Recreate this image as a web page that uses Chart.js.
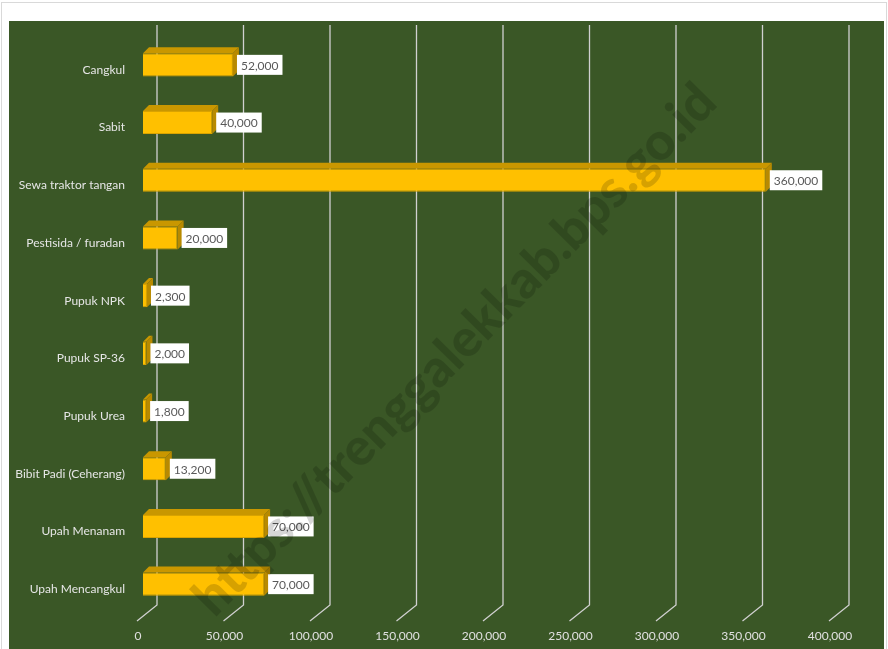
<!DOCTYPE html>
<html>
<head>
<meta charset="utf-8">
<script src="https://cdn.jsdelivr.net/npm/chart.js@4"></script>
<style>
  body { margin: 0; background: #fff; }
  canvas { display: block; }
</style>
</head>
<body>
<canvas id="biaya" width="888" height="649"></canvas>
<script>
// data
var categories = [
  "Cangkul",
  "Sabit",
  "Sewa traktor tangan",
  "Pestisida / furadan",
  "Pupuk NPK",
  "Pupuk SP-36",
  "Pupuk Urea",
  "Bibit Padi (Ceherang)",
  "Upah Menanam",
  "Upah Mencangkul"
];
var values = [52000, 40000, 360000, 20000, 2300, 2000, 1800, 13200, 70000, 70000];
var xTicks = [0, 50000, 100000, 150000, 200000, 250000, 300000, 350000, 400000];

var GREEN = "#3a5726";
var GOLD = "#ffc000";

// page background + green plot panel
var panelPlugin = {
  id: "panel",
  beforeDraw: function (chart) {
    var c = chart.ctx;
    c.save();
    c.fillStyle = "#ffffff";
    c.fillRect(0, 0, chart.width, chart.height);
    c.strokeStyle = "#d9d9d9";
    c.lineWidth = 1;
    c.strokeRect(1.5, 2.5, chart.width - 3, chart.height);
    c.fillStyle = GREEN;
    c.fillRect(9, 21, 875, chart.height - 21);
    c.restore();
  }
};

// gridlines on the back wall with floor edge
var gridPlugin = {
  id: "grid3d",
  beforeDatasetsDraw: function (chart) {
    var c = chart.ctx, xs = chart.scales.x, a = chart.chartArea;
    c.save();
    c.strokeStyle = "#d0d0d0";
    c.lineWidth = 1.3;
    xTicks.forEach(function (v) {
      var x = xs.getPixelForValue(v);
      c.beginPath();
      c.moveTo(x + 14, a.top - 11);
      c.lineTo(x + 14, a.bottom - 8);
      c.lineTo(x - 6, a.bottom + 8);
      c.stroke();
    });
    c.restore();
  }
};

// top and side faces of the bars, and value boxes
var barPlugin = {
  id: "bars3d",
  afterDatasetsDraw: function (chart) {
    var c = chart.ctx;
    var meta = chart.getDatasetMeta(0);
    var d = 6;
    c.save();
    meta.data.forEach(function (bar, i) {
      var p = bar.getProps(["x", "y", "base", "height"], true);
      var top = p.y - p.height / 2, bot = p.y + p.height / 2;
      c.fillStyle = "#c99700";
      c.beginPath();
      c.moveTo(p.base, top);
      c.lineTo(p.base + d, top - d);
      c.lineTo(p.x + d, top - d);
      c.lineTo(p.x, top);
      c.closePath();
      c.fill();
      c.fillStyle = "#b88a00";
      c.beginPath();
      c.moveTo(p.x, top);
      c.lineTo(p.x + d, top - d);
      c.lineTo(p.x + d, bot - d);
      c.lineTo(p.x, bot);
      c.closePath();
      c.fill();
    });
    c.font = "12px Lato";
    c.textBaseline = "middle";
    c.textAlign = "left";
    meta.data.forEach(function (bar, i) {
      var p = bar.getProps(["x", "y"], true);
      var txt = values[i].toLocaleString("en-US");
      var w = c.measureText(txt).width + 8;
      var bx = p.x + 4, by = p.y - 10;
      c.fillStyle = "#ffffff";
      c.fillRect(bx, by, w, 20);
      c.fillStyle = "#595959";
      c.fillText(txt, bx + 4, p.y + 1);
    });
    c.restore();
  }
};

// watermark
var markPlugin = {
  id: "mark",
  afterDraw: function (chart) {
    var c = chart.ctx;
    c.save();
    c.translate(455, 350);
    c.rotate(-Math.PI * 45.5 / 180);
    c.font = "900 52px Lato";
    c.textAlign = "center";
    c.textBaseline = "middle";
    c.fillStyle = "rgba(0,0,0,0.16)";
    c.fillText("https://trenggalekkab.bps.go.id", 0, 0);
    c.restore();
  }
};

var ctx = document.getElementById("biaya").getContext("2d");
var chart = new Chart(ctx, {
  type: "bar",
  data: {
    labels: categories,
    datasets: [
      {
        data: values,
        backgroundColor: GOLD,
        borderColor: "#d9a300",
        borderWidth: 1,
        barPercentage: 0.4,
        categoryPercentage: 1
      }
    ]
  },
  options: {
    indexAxis: "y",
    responsive: false,
    animation: false,
    devicePixelRatio: 1,
    layout: { padding: { top: 36, right: 53, bottom: 0, left: 0 } },
    plugins: {
      legend: { display: false },
      tooltip: { enabled: false }
    },
    scales: {
      x: {
        min: 0,
        max: 400000,
        afterBuildTicks: function (s) {
          s.ticks = xTicks.map(function (v) { return { value: v }; });
        },
        afterFit: function (s) { s.height = 36; },
        grid: { display: false, drawTicks: false },
        border: { display: false },
        ticks: {
          padding: 16,
          labelOffset: -5,
          color: "#e0e0e0",
          font: { family: "Lato", size: 12 },
          callback: function (v) { return Number(v).toLocaleString("en-US"); }
        }
      },
      y: {
        afterFit: function (s) { s.width = 143; },
        grid: { display: false, drawTicks: false },
        border: { display: false },
        ticks: {
          padding: 18,
          labelOffset: 5,
          color: "#e6e6e6",
          font: { family: "Lato", size: 12 }
        }
      }
    }
  },
  plugins: [panelPlugin, gridPlugin, barPlugin, markPlugin]
});
</script>
</body>
</html>
